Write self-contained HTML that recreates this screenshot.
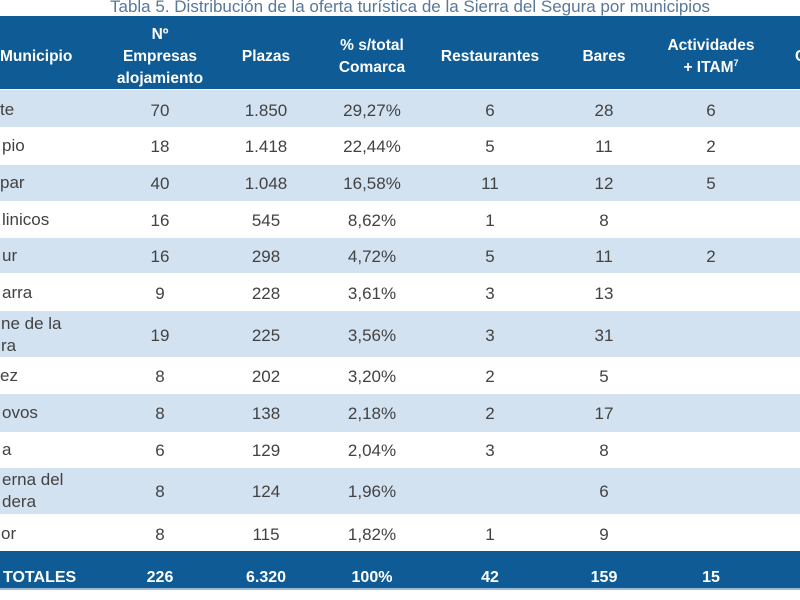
<!DOCTYPE html>
<html>
<head>
<meta charset="utf-8">
<style>
  html, body { margin:0; padding:0; }
  body { width:800px; height:600px; overflow:hidden; background:#ffffff; position:relative;
         font-family:"Liberation Sans", Arial, sans-serif; }
  .title { position:absolute; left:110px; top:-3px; height:20px; line-height:20px; font-size:17px;
           color:#58789a; white-space:nowrap; }
  .band { position:absolute; left:0; width:800px; }
  .hdr { background:#0f5b95; top:16px; height:73px; }
  .lb { background:#d3e2f1; }
  .tot { background:#0f5b95; }
  .c { position:absolute; width:110px; text-align:center; font-size:17px; color:#424242; white-space:nowrap; }
  .h { position:absolute; text-align:center; font-size:15.5px; font-weight:bold; color:#ffffff; white-space:nowrap; line-height:22px; }
  .n { position:absolute; left:0; font-size:17px; color:#424242; white-space:nowrap; line-height:22px; }
  .t { color:#ffffff; font-weight:bold; font-size:16px; }
  sup { font-size:9px; vertical-align:6px; line-height:0; }
</style>
</head>
<body>
<div class="title">Tabla 5. Distribución de la oferta turística de la Sierra del Segura por municipios</div>

<div class="band hdr"></div>
<div class="band lb" style="top:90px;height:37px;"></div>
<div class="band lb" style="top:165px;height:36px;"></div>
<div class="band lb" style="top:238px;height:35px;"></div>
<div class="band lb" style="top:311px;height:46px;"></div>
<div class="band lb" style="top:394px;height:38px;"></div>
<div class="band lb" style="top:468px;height:46px;"></div>
<div class="band tot" style="top:551px;height:38px;"></div>
<div class="band" style="top:588px;height:2px;background:#9fbad6;"></div>

<!-- header -->
<div class="h" style="left:0;top:46px;">Municipio</div>
<div class="h" style="left:110px;width:100px;top:24px;">Nº<br>Empresas<br>alojamiento</div>
<div class="h" style="left:216px;width:100px;top:46px;">Plazas</div>
<div class="h" style="left:322px;width:100px;top:35px;">% s/total<br>Comarca</div>
<div class="h" style="left:430px;width:120px;top:46px;">Restaurantes</div>
<div class="h" style="left:554px;width:100px;top:46px;">Bares</div>
<div class="h" style="left:656px;width:110px;top:35px;">Actividades<br>+ ITAM<sup>7</sup></div>
<div class="h" style="left:795px;top:46px;">C</div>

<!-- municipality fragments -->
<div class="n" style="top:99px;">te</div>
<div class="n" style="top:135px;left:2px;">pio</div>
<div class="n" style="top:172px;left:0px;">par</div>
<div class="n" style="top:209px;left:2px;">linicos</div>
<div class="n" style="top:245px;left:2px;">ur</div>
<div class="n" style="top:282px;left:2px;">arra</div>
<div class="n" style="top:313px;left:1px;">ne de la<br>ra</div>
<div class="n" style="top:365px;left:0px;">ez</div>
<div class="n" style="top:402px;left:2px;">ovos</div>
<div class="n" style="top:439px;left:2px;">a</div>
<div class="n" style="top:469px;left:2px;">erna del<br>dera</div>
<div class="n" style="top:523px;left:1px;">or</div>
<div class="n t" style="top:567px;left:3px;">TOTALES</div>

<!-- row 1 -->
<div class="c" style="left:105px;top:101px;">70</div>
<div class="c" style="left:211px;top:101px;">1.850</div>
<div class="c" style="left:317px;top:101px;">29,27%</div>
<div class="c" style="left:435px;top:101px;">6</div>
<div class="c" style="left:549px;top:101px;">28</div>
<div class="c" style="left:656px;top:101px;">6</div>
<!-- row 2 -->
<div class="c" style="left:105px;top:137px;">18</div>
<div class="c" style="left:211px;top:137px;">1.418</div>
<div class="c" style="left:317px;top:137px;">22,44%</div>
<div class="c" style="left:435px;top:137px;">5</div>
<div class="c" style="left:549px;top:137px;">11</div>
<div class="c" style="left:656px;top:137px;">2</div>
<!-- row 3 -->
<div class="c" style="left:105px;top:174px;">40</div>
<div class="c" style="left:211px;top:174px;">1.048</div>
<div class="c" style="left:317px;top:174px;">16,58%</div>
<div class="c" style="left:435px;top:174px;">11</div>
<div class="c" style="left:549px;top:174px;">12</div>
<div class="c" style="left:656px;top:174px;">5</div>
<!-- row 4 -->
<div class="c" style="left:105px;top:211px;">16</div>
<div class="c" style="left:211px;top:211px;">545</div>
<div class="c" style="left:317px;top:211px;">8,62%</div>
<div class="c" style="left:435px;top:211px;">1</div>
<div class="c" style="left:549px;top:211px;">8</div>
<!-- row 5 -->
<div class="c" style="left:105px;top:247px;">16</div>
<div class="c" style="left:211px;top:247px;">298</div>
<div class="c" style="left:317px;top:247px;">4,72%</div>
<div class="c" style="left:435px;top:247px;">5</div>
<div class="c" style="left:549px;top:247px;">11</div>
<div class="c" style="left:656px;top:247px;">2</div>
<!-- row 6 -->
<div class="c" style="left:105px;top:284px;">9</div>
<div class="c" style="left:211px;top:284px;">228</div>
<div class="c" style="left:317px;top:284px;">3,61%</div>
<div class="c" style="left:435px;top:284px;">3</div>
<div class="c" style="left:549px;top:284px;">13</div>
<!-- row 7 -->
<div class="c" style="left:105px;top:326px;">19</div>
<div class="c" style="left:211px;top:326px;">225</div>
<div class="c" style="left:317px;top:326px;">3,56%</div>
<div class="c" style="left:435px;top:326px;">3</div>
<div class="c" style="left:549px;top:326px;">31</div>
<!-- row 8 -->
<div class="c" style="left:105px;top:367px;">8</div>
<div class="c" style="left:211px;top:367px;">202</div>
<div class="c" style="left:317px;top:367px;">3,20%</div>
<div class="c" style="left:435px;top:367px;">2</div>
<div class="c" style="left:549px;top:367px;">5</div>
<!-- row 9 -->
<div class="c" style="left:105px;top:404px;">8</div>
<div class="c" style="left:211px;top:404px;">138</div>
<div class="c" style="left:317px;top:404px;">2,18%</div>
<div class="c" style="left:435px;top:404px;">2</div>
<div class="c" style="left:549px;top:404px;">17</div>
<!-- row 10 -->
<div class="c" style="left:105px;top:441px;">6</div>
<div class="c" style="left:211px;top:441px;">129</div>
<div class="c" style="left:317px;top:441px;">2,04%</div>
<div class="c" style="left:435px;top:441px;">3</div>
<div class="c" style="left:549px;top:441px;">8</div>
<!-- row 11 -->
<div class="c" style="left:105px;top:482px;">8</div>
<div class="c" style="left:211px;top:482px;">124</div>
<div class="c" style="left:317px;top:482px;">1,96%</div>
<div class="c" style="left:549px;top:482px;">6</div>
<!-- row 12 -->
<div class="c" style="left:105px;top:525px;">8</div>
<div class="c" style="left:211px;top:525px;">115</div>
<div class="c" style="left:317px;top:525px;">1,82%</div>
<div class="c" style="left:435px;top:525px;">1</div>
<div class="c" style="left:549px;top:525px;">9</div>
<!-- totals -->
<div class="c t" style="left:105px;top:569px;">226</div>
<div class="c t" style="left:211px;top:569px;">6.320</div>
<div class="c t" style="left:317px;top:569px;">100%</div>
<div class="c t" style="left:435px;top:569px;">42</div>
<div class="c t" style="left:549px;top:569px;">159</div>
<div class="c t" style="left:656px;top:569px;">15</div>
</body>
</html>
